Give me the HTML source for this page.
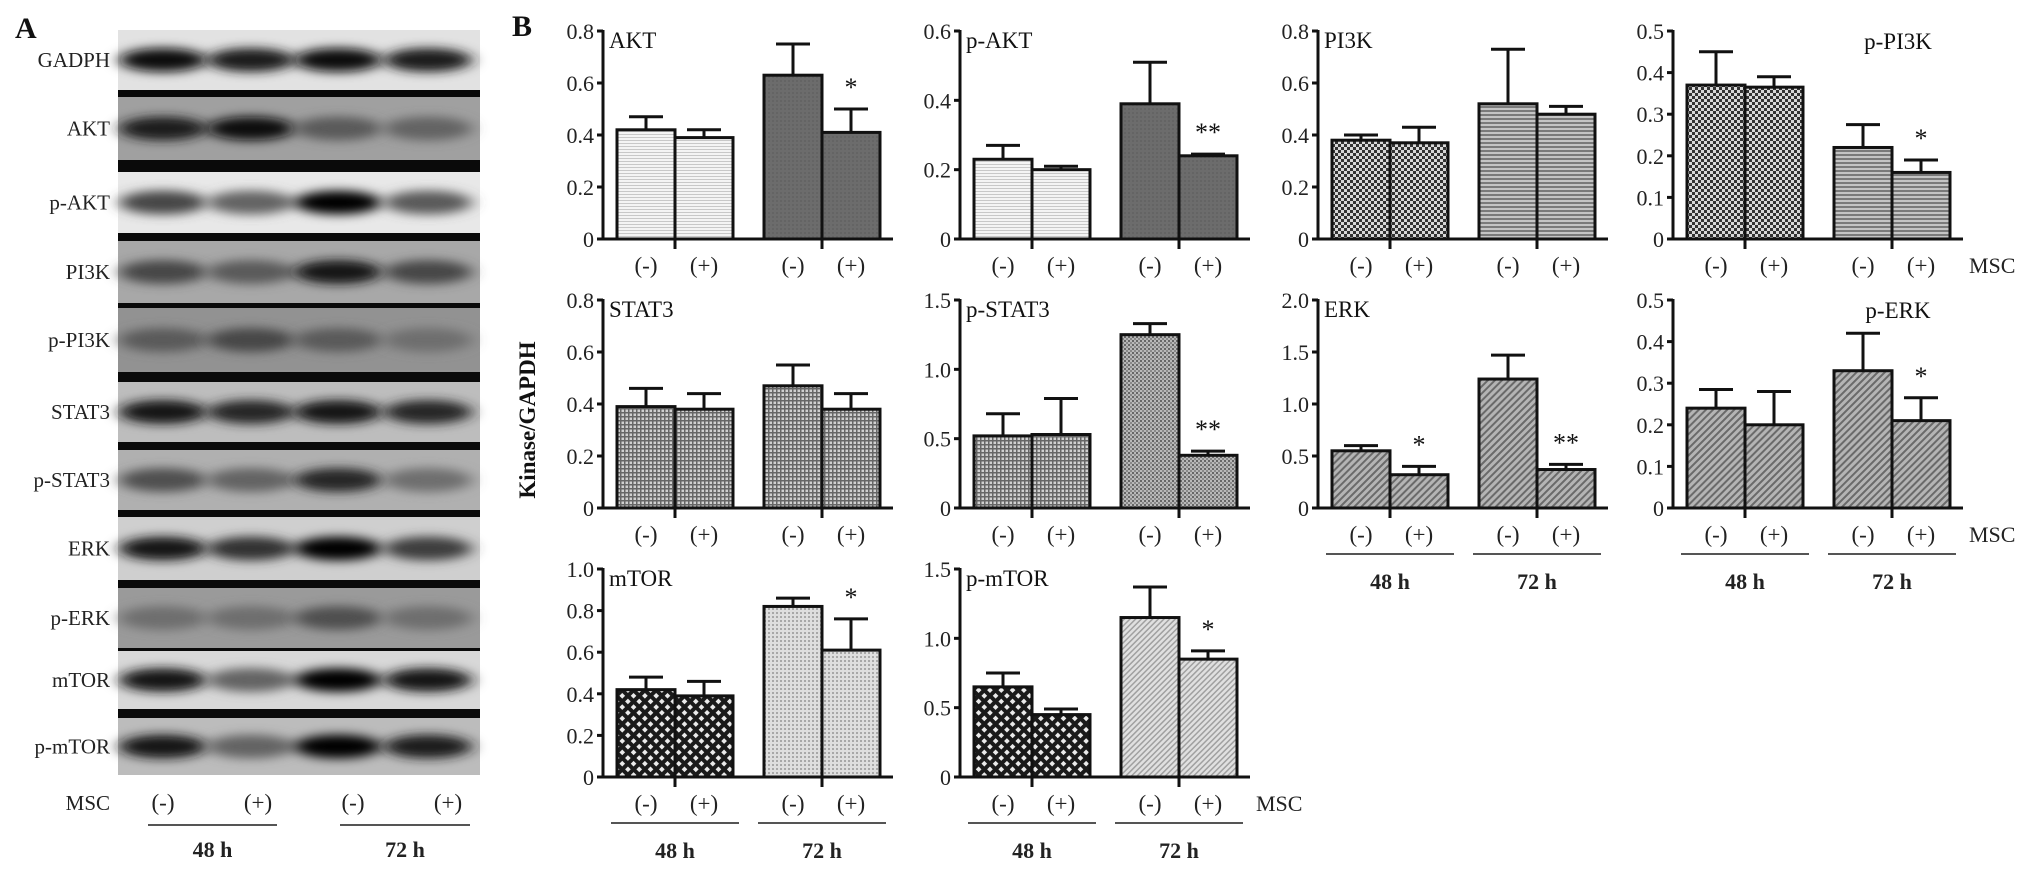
<!DOCTYPE html>
<html><head><meta charset="utf-8">
<style>
html,body{margin:0;padding:0;background:#fff;}
svg{display:block;font-family:"Liberation Serif",serif;}
</style></head>
<body>
<svg id="fig" width="2031" height="872" viewBox="0 0 2031 872" xmlns="http://www.w3.org/2000/svg">
<defs>
<filter id="blur" x="-30%" y="-80%" width="160%" height="260%"><feGaussianBlur stdDeviation="8 5"/></filter>
<pattern id="lightH" width="4" height="3" patternUnits="userSpaceOnUse"><rect width="4" height="3" fill="#f4f4f4"/><rect y="2" width="4" height="1" fill="#c8c8c8"/></pattern>
<pattern id="darkSolid" width="4" height="4" patternUnits="userSpaceOnUse"><rect width="4" height="4" fill="#6c6c6c"/><rect width="2" height="2" fill="#646464"/></pattern>
<pattern id="checkDark" width="6" height="6" patternUnits="userSpaceOnUse"><rect width="6" height="6" fill="#d8d8d8"/><rect width="3" height="3" fill="#333"/><rect x="3" y="3" width="3" height="3" fill="#333"/></pattern>
<pattern id="hlinesMid" width="4" height="4" patternUnits="userSpaceOnUse"><rect width="4" height="4" fill="#c4c4c4"/><rect y="2" width="4" height="2" fill="#7a7a7a"/></pattern>
<pattern id="grid" width="4" height="4" patternUnits="userSpaceOnUse"><rect width="4" height="4" fill="#d0d0d0"/><rect width="4" height="1.5" fill="#666"/><rect width="1.5" height="4" fill="#666"/></pattern>
<pattern id="dotsFine" width="4" height="4" patternUnits="userSpaceOnUse"><rect width="4" height="4" fill="#b8b8b8"/><rect width="2" height="2" fill="#666"/><rect x="2" y="2" width="2" height="2" fill="#888"/></pattern>
<pattern id="diag" width="5" height="5" patternUnits="userSpaceOnUse" patternTransform="rotate(45)"><rect width="5" height="5" fill="#b4b4b4"/><rect width="2" height="5" fill="#6a6a6a"/></pattern>
<pattern id="checkBig" width="8" height="8" patternUnits="userSpaceOnUse" patternTransform="rotate(45)"><rect width="8" height="8" fill="#1a1a1a"/><rect x="2" y="2" width="4" height="4" fill="#eaeaea"/></pattern>
<pattern id="dotsLight" width="4" height="4" patternUnits="userSpaceOnUse"><rect width="4" height="4" fill="#dedede"/><rect width="2" height="2" fill="#a8a8a8"/></pattern>
<pattern id="diagLight" width="4" height="4" patternUnits="userSpaceOnUse" patternTransform="rotate(45)"><rect width="4" height="4" fill="#e0e0e0"/><rect width="1.5" height="4" fill="#a0a0a0"/></pattern>
</defs>
<g id="blot"></g>
<g id="charts"></g>
</svg>
<script>
// ---------- chart data ----------
const titles = ["AKT","p-AKT","PI3K","p-PI3K","STAT3","p-STAT3","ERK","p-ERK","mTOR","p-mTOR"];
const yMax = [0.8,0.6,0.8,0.5,0.8,1.5,2.0,0.5,1.0,1.5];
const yStep = [0.2,0.2,0.2,0.1,0.2,0.5,0.5,0.1,0.2,0.5];
const groupLabels = ["(-)","(+)","(-)","(+)"];
const timeLabels = ["48 h","72 h"];
const means = [
 [0.42,0.39,0.63,0.41],
 [0.23,0.20,0.39,0.24],
 [0.38,0.37,0.52,0.48],
 [0.37,0.365,0.22,0.16],
 [0.39,0.38,0.47,0.38],
 [0.52,0.53,1.25,0.38],
 [0.55,0.32,1.24,0.37],
 [0.24,0.20,0.33,0.21],
 [0.42,0.39,0.82,0.61],
 [0.65,0.45,1.15,0.85]
];
const errTops = [
 [0.47,0.42,0.75,0.50],
 [0.27,0.21,0.51,0.245],
 [0.40,0.43,0.73,0.51],
 [0.45,0.39,0.275,0.19],
 [0.46,0.44,0.55,0.44],
 [0.68,0.79,1.33,0.41],
 [0.60,0.40,1.47,0.42],
 [0.285,0.28,0.42,0.265],
 [0.48,0.46,0.86,0.76],
 [0.75,0.49,1.37,0.91]
];
const sigMarks = [
 ["","","","*"],["","","","**"],["","","",""],["","","","*"],["","","",""],
 ["","","","**"],["","*","","**"],["","","","*"],["","","","*"],["","","","*"]
];
const blotLabels = ["GADPH","AKT","p-AKT","PI3K","p-PI3K","STAT3","p-STAT3","ERK","p-ERK","mTOR","p-mTOR"];
const bandIntensity = [
 [0.95,0.85,0.95,0.85],[0.85,0.95,0.55,0.5],[0.65,0.5,1,0.55],[0.65,0.55,0.9,0.65],
 [0.55,0.65,0.55,0.45],[0.9,0.8,0.9,0.8],[0.6,0.5,0.8,0.45],[0.9,0.75,1,0.7],
 [0.45,0.45,0.6,0.45],[0.9,0.5,1,0.9],[0.9,0.5,1,0.85]
];

// ---------- layout (not data) ----------
const NS="http://www.w3.org/2000/svg";
const colX=[603,960,1318,1673], rowZero=[239,508,777], H=208;
const barOff=[14,72,161,219], barW=58, axisLen=290;
const fills=[["lightH","darkSolid"],["lightH","darkSolid"],["checkDark","hlinesMid"],["checkDark","hlinesMid"],
 ["grid","grid"],["grid","dotsFine"],["diag","diag"],["diag","diag"],["checkBig","dotsLight"],["checkBig","diagLight"]];
const showTime=[false,false,false,false,false,false,true,true,true,true];
const showMSC=[false,false,false,true,false,false,false,true,false,true];
const titleRight=[false,false,false,true,false,false,false,true,false,false];

function mk(tag,attrs,parent,text){const e=document.createElementNS(NS,tag);for(const k in attrs)e.setAttribute(k,attrs[k]);if(text!==undefined)e.textContent=text;parent.appendChild(e);return e;}

const charts=document.getElementById('charts');
function fmt(v){return v===0?"0":v.toFixed(1);}

titles.forEach((t,i)=>{
 const ax=colX[i%4], z=rowZero[Math.floor(i/4)];
 const y=v=>z-v/yMax[i]*H;
 const g=mk('g',{},charts);
 
 
 means[i].forEach((m,j)=>{
  const bx=ax+barOff[j];
  const r=mk('rect',{x:bx,y:y(m),width:barW,height:z-y(m),fill:'url(#'+fills[i][j<2?0:1]+')',stroke:'#111','stroke-width':3},g);
  
  
  const cx=bx+barW/2, et=y(errTops[i][j]);
  const eb=mk('path',{d:`M${cx},${y(m)}V${et}M${cx-17},${et}H${cx+17}`,stroke:'#111','stroke-width':3,fill:'none'},g);
  
  
  if(sigMarks[i][j]){
   const s=mk('text',{x:cx,y:et-13,'font-size':26,'text-anchor':'middle',fill:'#111'},g,sigMarks[i][j]);
   
   
  }
  const xl=mk('text',{x:cx,y:z+34,'font-size':23,'text-anchor':'middle',fill:'#222'},g,groupLabels[j]);
  
  
 });
 const axes=mk('path',{d:`M${ax},${z-H-1}V${z}H${ax+axisLen}M${ax+barOff[1]},${z}v10M${ax+barOff[3]},${z}v10`,stroke:'#111','stroke-width':3,fill:'none'},g);
 
 
 const n=Math.round(yMax[i]/yStep[i]);
 for(let k=0;k<=n;k++){
  const v=k*yStep[i], ty=y(v);
  mk('line',{x1:ax-6,x2:ax,y1:ty,y2:ty,stroke:'#111','stroke-width':3},g);
  const tl=mk('text',{x:ax-9,y:ty+8,'font-size':22,'text-anchor':'end',fill:'#222'},g,fmt(v));
  
  
 }
 const tt=titleRight[i]?mk('text',{x:ax+225,y:z-H+18,'font-size':23,'text-anchor':'middle',fill:'#111'},g,t)
   :mk('text',{x:ax+6,y:z-H+17,'font-size':23,fill:'#111'},g,t);
 
 
 if(showMSC[i]){
  const ms=mk('text',{x:ax+axisLen+6,y:z+34,'font-size':22,fill:'#222'},g,'MSC');
  
  
 }
 if(showTime[i]){
  [0,2].forEach((j,q)=>{
   const x0=ax+barOff[j]-6, x1=ax+barOff[j+1]+barW+6;
   mk('line',{x1:x0,x2:x1,y1:z+46,y2:z+46,stroke:'#555','stroke-width':2},g);
   const tl=mk('text',{x:(x0+x1)/2,y:z+81,'font-size':22,'font-weight':'bold','text-anchor':'middle',fill:'#222'},g,timeLabels[q]);
   
   
  });
 }
});
const yl=mk('text',{x:0,y:0,'font-size':23,'font-weight':'bold','text-anchor':'middle',fill:'#111',transform:'translate(535,420) rotate(-90)'},charts,'Kinase/GAPDH');


const pb=mk('text',{x:512,y:36,'font-size':30,'font-weight':'bold',fill:'#111'},charts,'B');



// ---------- blot ----------
const blot=document.getElementById('blot');
const rowTop=[30,97,172,241,308,382,450,517,588,651,718];
const rowBot=[90,160,233,303,372,442,510,580,648,709,775];
const rowBg=["#e2e2e2","#a0a0a0","#e8e8e8","#a8a8a8","#929292","#bdbdbd","#b0b0b0","#cfcfcf","#9a9a9a","#d8d8d8","#bcbcbc"];
const sepBot=[97,172,241,308,382,450,517,588,651,718];
const laneX=[163,251,338,428];
const pa=mk('text',{x:15,y:38,'font-size':30,'font-weight':'bold',fill:'#111'},blot,'A');


blotLabels.forEach((lab,r)=>{
 const g=mk('g',{},blot);
 
 
 mk('rect',{x:118,y:rowTop[r],width:362,height:(r<10?sepBot[r]:rowBot[r])-rowTop[r],fill:rowBg[r]},g);
 const cy=(rowTop[r]+rowBot[r])/2;
 bandIntensity[r].forEach((v,l)=>{
  const c=Math.round(200-200*v);
  mk('ellipse',{cx:laneX[l],cy:cy,rx:44,ry:12,fill:`rgb(${c},${c},${c})`,filter:'url(#blur)'},g);
 });
 if(r<10) mk('rect',{x:118,y:rowBot[r],width:362,height:sepBot[r]-rowBot[r],fill:'#0a0a0a'},g);
 const t=mk('text',{x:110,y:cy+7,'font-size':21,'text-anchor':'end',fill:'#222'},g,lab);
 
 
});
const bm=mk('text',{x:110,y:810,'font-size':21,'text-anchor':'end',fill:'#222'},blot,'MSC');


groupLabels.forEach((s,l)=>{
 const t=mk('text',{x:[163,258,353,448][l],y:810,'font-size':23,'text-anchor':'middle',fill:'#222'},blot,s);
 
 
});
[[148,277],[340,470]].forEach((p,q)=>{
 mk('line',{x1:p[0],x2:p[1],y1:825,y2:825,stroke:'#555','stroke-width':2},blot);
 const t=mk('text',{x:(p[0]+p[1])/2,y:857,'font-size':22,'font-weight':'bold','text-anchor':'middle',fill:'#222'},blot,timeLabels[q]);
 
 
});
</script>
</body></html>
